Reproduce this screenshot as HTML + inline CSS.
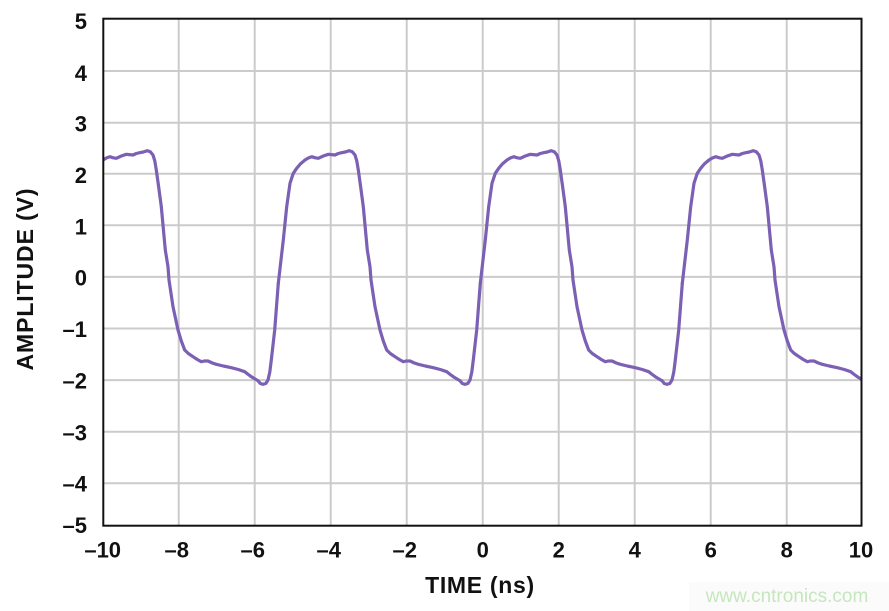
<!DOCTYPE html>
<html>
<head>
<meta charset="utf-8">
<style>
html,body{margin:0;padding:0;background:#fff;}
svg{display:block;}
text{font-family:"Liberation Sans",Arial,sans-serif;}
</style>
</head>
<body>
<svg width="889" height="611" viewBox="0 0 889 611" xmlns="http://www.w3.org/2000/svg">
<rect x="0" y="0" width="889" height="611" fill="#fff"/>
<defs>
<clipPath id="plot"><rect x="103.3" y="18.7" width="758.2" height="507"/></clipPath>
<polyline id="per" fill="none" stroke="#7b60b4" stroke-width="3.2" stroke-linejoin="round" stroke-linecap="round"
points="0,283.3 5,240 8.4,206.7 11.7,183.3 15,173.3 18.4,168.3 22,164 26.7,160 30,158 33.4,156.7 37,157.8 40,158.3 45,156 50,154.3 53,154.6 56.7,155 60,153.5 63.4,152.7 67,152 71,150.7 74,151.8 76.7,155 78.5,161 80,170 82.5,188 85,206.7 89,250 91.7,266.7 92.7,280 96.7,306.7 101.7,330 105,341 108.4,350 112,353.5 116.7,356.7 121,359.5 125,361.7 128,361 131.7,361 136,363 140,364.3 147,366 155,367.7 162,369.5 168.4,371.7 172,374.5 175,376.7 181.7,380.7 184,383.5 186.7,384.3 189.5,383.5 191.7,380 193.5,372 195,360 198.4,330 202,283.3"/>
</defs>
<!-- grid -->
<g stroke="#cbcbcb" stroke-width="2">
<line x1="103" y1="71" x2="861" y2="71"/>
<line x1="103" y1="122.7" x2="861" y2="122.7"/>
<line x1="103" y1="173.7" x2="861" y2="173.7"/>
<line x1="103" y1="225.3" x2="861" y2="225.3"/>
<line x1="103" y1="276.9" x2="861" y2="276.9"/>
<line x1="103" y1="328.5" x2="861" y2="328.5"/>
<line x1="103" y1="380.1" x2="861" y2="380.1"/>
<line x1="103" y1="431.7" x2="861" y2="431.7"/>
<line x1="103" y1="483.3" x2="861" y2="483.3"/>
<line x1="178.7" y1="19" x2="178.7" y2="526"/>
<line x1="254.7" y1="19" x2="254.7" y2="526"/>
<line x1="330.7" y1="19" x2="330.7" y2="526"/>
<line x1="406.7" y1="19" x2="406.7" y2="526"/>
<line x1="482.7" y1="19" x2="482.7" y2="526"/>
<line x1="558.7" y1="19" x2="558.7" y2="526"/>
<line x1="634.7" y1="19" x2="634.7" y2="526"/>
<line x1="710.7" y1="19" x2="710.7" y2="526"/>
<line x1="786.7" y1="19" x2="786.7" y2="526"/>
</g>
<!-- series -->
<g clip-path="url(#plot)">
<use href="#per" transform="translate(76.3,0)"/>
<use href="#per" transform="translate(278.3,0)"/>
<use href="#per" transform="translate(480.3,0)"/>
<use href="#per" transform="translate(682.3,0)"/>
</g>
<!-- border -->
<rect x="103.3" y="18.7" width="758.2" height="507" fill="none" stroke="#111" stroke-width="2"/>
<!-- y tick labels -->
<g font-size="22" font-weight="bold" fill="#111" text-anchor="end">
<text x="87" y="29">5</text>
<text x="87" y="81">4</text>
<text x="87" y="131.7">3</text>
<text x="87" y="183">2</text>
<text x="87" y="234.5">1</text>
<text x="87" y="285.5">0</text>
<text x="87" y="337">–1</text>
<text x="87" y="388.7">–2</text>
<text x="87" y="440.3">–3</text>
<text x="87" y="491.7">–4</text>
<text x="87" y="533">–5</text>
</g>
<!-- x tick labels -->
<g font-size="22" font-weight="bold" fill="#111" text-anchor="middle">
<text x="102.7" y="557.5">–10</text>
<text x="176.7" y="557.5">–8</text>
<text x="252.7" y="557.5">–6</text>
<text x="328.7" y="557.5">–4</text>
<text x="404.7" y="557.5">–2</text>
<text x="482.7" y="557.5">0</text>
<text x="558.7" y="557.5">2</text>
<text x="634.7" y="557.5">4</text>
<text x="710.7" y="557.5">6</text>
<text x="786.7" y="557.5">8</text>
<text x="861" y="557.5">10</text>
</g>
<!-- axis titles -->
<text x="480" y="593" font-size="23" font-weight="bold" fill="#111" text-anchor="middle" letter-spacing="0.7">TIME (ns)</text>
<text transform="translate(33,279) rotate(-90)" x="0" y="0" font-size="23" font-weight="bold" fill="#111" text-anchor="middle" letter-spacing="0.9">AMPLITUDE (V)</text>
<!-- watermark -->
<rect x="689" y="582" width="200" height="29" fill="#fbfbfb"/>
<text x="787" y="602" font-size="19" fill="#c6e6be" text-anchor="middle">www.cntronics.com</text>
</svg>
</body>
</html>
